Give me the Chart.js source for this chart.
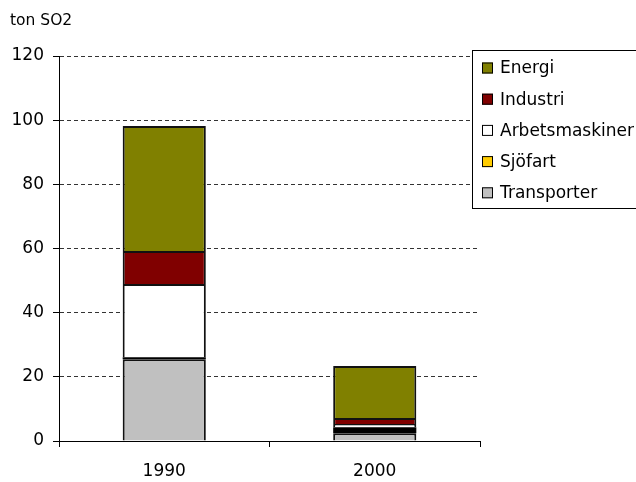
<!DOCTYPE html>
<html>
<head>
<meta charset="utf-8">
<script src="https://cdn.jsdelivr.net/npm/chart.js@4"></script>
<style>
  html, body { margin: 0; padding: 0; background: #fff; }
  #wrap { width: 636px; height: 482px; }
</style>
</head>
<body>
<div id="wrap"><canvas id="so2Chart" width="636" height="482"></canvas></div>
<script>
const years = ['1990', '2000'];
const transporter = [25.5, 2.4];
const sjofart = [0.6, 1.9];
const arbetsmaskiner = [22.8, 1.0];
const industri = [10.3, 1.9];
const energi = [39.0, 16.2];
const unitLabel = 'ton SO2';

const FONT = 'DejaVu Sans';

// legend box drawn by hand, top entry = top of the stack
const sideLegend = {
  id: 'sideLegend',
  afterDraw(chart) {
    const ctx = chart.ctx;
    ctx.save();
    ctx.fillStyle = '#fff';
    ctx.fillRect(472, 50, 170, 158);
    ctx.strokeStyle = '#000';
    ctx.lineWidth = 1;
    ctx.strokeRect(472.5, 50.5, 170, 158);
    const items = chart.data.datasets.slice().reverse();
    ctx.font = '17px "' + FONT + '"';
    ctx.textBaseline = 'middle';
    items.forEach((ds, i) => {
      const y = 68 + i * 31.2;
      ctx.fillStyle = ds.legendColor || ds.backgroundColor;
      ctx.fillRect(482, y - 5.5, 11, 11);
      ctx.strokeStyle = '#000';
      ctx.strokeRect(482.5, y - 5, 10, 10);
      ctx.fillStyle = '#000';
      ctx.fillText(ds.label, 500, y + 1);
    });
    // unit text above the axis
    ctx.font = '15.5px "' + FONT + '"';
    ctx.fillText(unitLabel, 10, 21);
    ctx.restore();
  }
};

const ctxSo2 = document.getElementById('so2Chart').getContext('2d');
new Chart(ctxSo2, {
  type: 'bar',
  data: {
    labels: years,
    datasets: [
      { label: 'Transporter', data: transporter, backgroundColor: '#c0c0c0' },
      // thin slice shows only as a dark band in the stack
      { label: 'Sjöfart', data: sjofart, backgroundColor: '#000000', borderWidth: 0, legendColor: '#ffcc00' },
      { label: 'Arbetsmaskiner', data: arbetsmaskiner, backgroundColor: '#ffffff' },
      { label: 'Industri', data: industri, backgroundColor: '#800000' },
      { label: 'Energi', data: energi, backgroundColor: '#808000' }
    ]
  },
  options: {
    responsive: false,
    animation: false,
    layout: { padding: { top: 56, right: 156, left: 0, bottom: 0 } },
    datasets: {
      bar: { categoryPercentage: 1, barPercentage: 0.395, borderColor: '#111', borderWidth: 2 }
    },
    plugins: {
      legend: { display: false },
      tooltip: { enabled: false }
    },
    scales: {
      x: {
        stacked: true,
        afterFit(scale) { scale.height = 41; },
        grid: { drawOnChartArea: false, drawTicks: true, tickLength: 6, color: '#000', tickColor: '#000' },
        border: { display: true, color: '#000', width: 1 },
        ticks: { color: '#000', padding: 14, font: { family: FONT, size: 17 } }
      },
      y: {
        stacked: true,
        min: 0,
        max: 120,
        afterFit(scale) { scale.width = 59; },
        grid: { color: '#333', tickColor: '#000', tickLength: 6, tickBorderDash: [], lineWidth: 1 },
        border: { display: true, color: '#000', width: 1, dash: [4, 3] },
        ticks: { stepSize: 20, color: '#000', padding: 9, font: { family: FONT, size: 17 } }
      }
    }
  },
  plugins: [sideLegend]
});
</script>
</body>
</html>
